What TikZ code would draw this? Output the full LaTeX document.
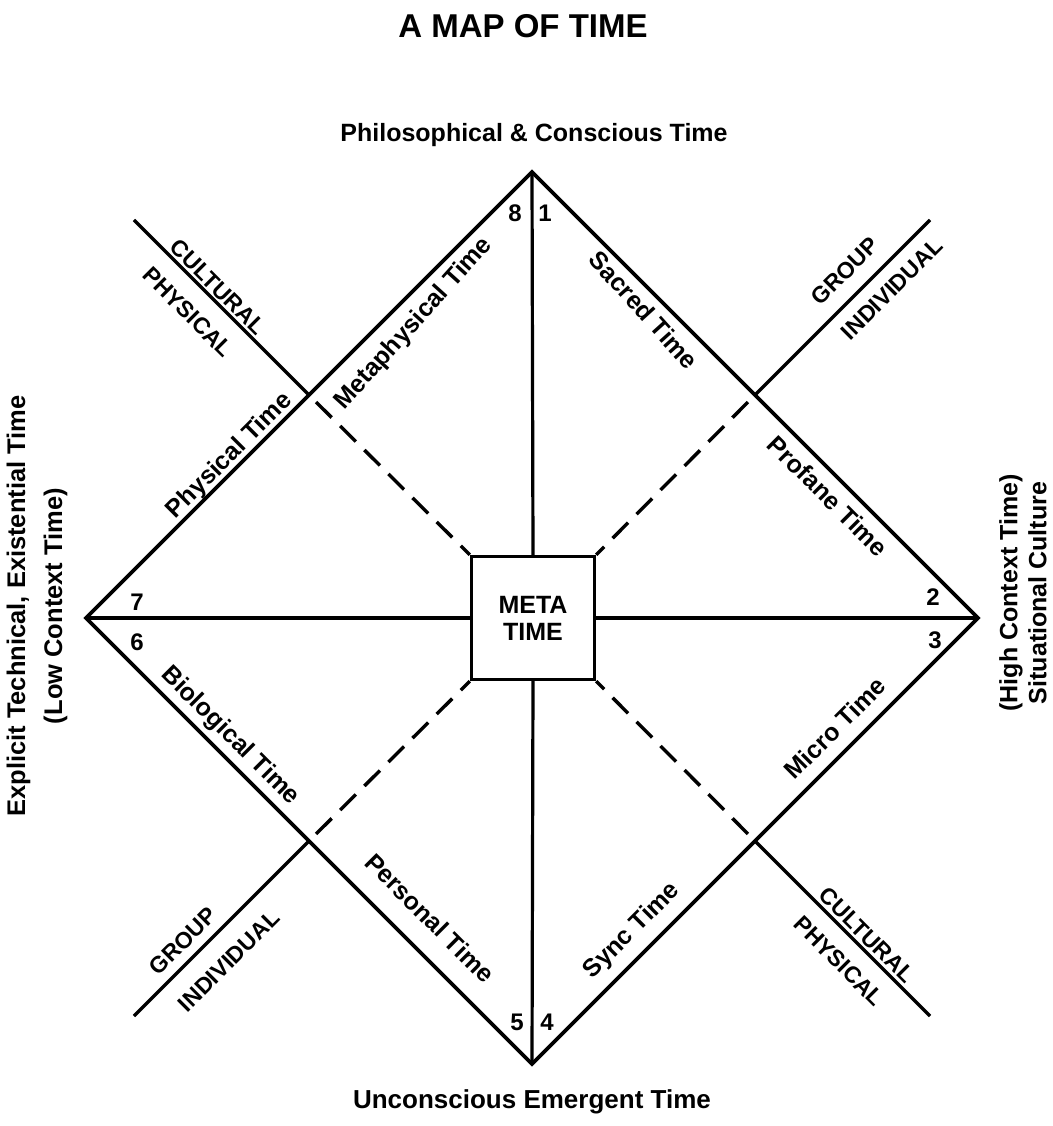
\documentclass[tikz,border=0pt]{standalone}
\usepackage{fontspec}
\setmainfont{Liberation Sans}
\begin{document}
\begin{tikzpicture}[x=1pt,y=1pt,
  edge/.style={line width=3.8pt, line join=miter, line cap=round},
  axisline/.style={line width=3.2pt},
  dashline/.style={line width=3.4pt, dash pattern=on 22pt off 12pt, dash phase=24pt},
  txt/.style={font=\bfseries\fontsize{25}{30}\selectfont, inner sep=0pt},
  num/.style={font=\bfseries\fontsize{24}{28}\selectfont, inner sep=0pt},
  caps/.style={font=\bfseries\fontsize{23}{28}\selectfont, inner sep=0pt}]
\useasboundingbox (-532,-508) rectangle (520,618);

% title and side labels
\node[font=\bfseries\fontsize{33}{38}\selectfont, anchor=base, inner sep=0pt] (title) at (-9,580) {A MAP OF TIME};
\node[txt, anchor=base] (top) at (2,476) {Philosophical \& Conscious Time};
\node[txt, anchor=base, font=\bfseries\fontsize{26}{30}\selectfont] (bot) at (0,-490) {Unconscious Emergent Time};
\node[txt, rotate=90, align=center, font=\bfseries\fontsize{25.5}{37}\selectfont] (left) at (-495,12) {Explicit Technical, Existential Time\\(Low Context Time)};
\node[txt, rotate=90, align=center, font=\bfseries\fontsize{25}{29}\selectfont] (right) at (491,25) {(High Context Time)\\Situational Culture};

% vertices
\coordinate (T) at (0,446);
\coordinate (B) at (0,-446);
\coordinate (L) at (-446,0);
\coordinate (R) at (446,0);
\coordinate (mtl) at (-223,223);
\coordinate (mtr) at (223,223);
\coordinate (mbl) at (-223,-223);
\coordinate (mbr) at (223,-223);
\coordinate (etl) at (-398,398);
\coordinate (etr) at (398,398);
\coordinate (ebl) at (-398,-398);
\coordinate (ebr) at (398,-398);

% centre box
\node[draw, line width=3.4pt, minimum size=123pt, inner sep=0pt, align=center,
      font=\bfseries\fontsize{25}{27}\selectfont, fill=white] (meta) at (1,0) {META\\TIME};

% diamond
\draw[edge] (T) -- (R) -- (B) -- (L) -- cycle;
\draw[axisline] (T) -- (meta.north);
\draw[axisline] (B) -- (meta.south);
\draw[axisline] (L) -- (meta.west);
\draw[axisline] (R) -- (meta.east);

% outer diagonals
\draw[axisline] (mtl) -- (etl);
\draw[axisline] (mtr) -- (etr);
\draw[axisline] (mbl) -- (ebl);
\draw[axisline] (mbr) -- (ebr);

% dashed diagonals
\draw[dashline] (mtl) -- (meta.north west);
\draw[dashline] (mtr) -- (meta.north east);
\draw[dashline] (mbl) -- (meta.south west);
\draw[dashline] (mbr) -- (meta.south east);

% numbers
\node[num] (n8) at (-17,405) {8};
\node[num] (n1) at (13,405) {1};
\node[num] (n7) at (-395,16) {7};
\node[num] (n6) at (-395,-24) {6};
\node[num] (n2) at (401,21) {2};
\node[num] (n3) at (403,-22) {3};
\node[num] (n5) at (-15,-404) {5};
\node[num] (n4) at (15,-404) {4};

% edge labels
\node[txt, rotate=48] (meta1) at (-118,294) {Metaphysical Time};
\node[txt, rotate=-48] (sacred) at (112,308) {Sacred Time};
\node[txt, rotate=45] (phys) at (-302,162) {Physical Time};
\node[txt, rotate=-45] (prof) at (296,122) {Profane Time};
\node[txt, rotate=-45] (bio) at (-302,-118) {Biological Time};
\node[txt, rotate=45] (micro) at (303,-110) {Micro Time};
\node[txt, rotate=-45] (pers) at (-102,-300) {Personal Time};
\node[txt, rotate=45] (sync) at (100,-313) {Sync Time};

% outer line labels
\node[caps, rotate=-45] (cul1) at (-314,331) {CULTURAL};
\node[caps, rotate=-45] (phy1) at (-344,306) {PHYSICAL};
\node[caps, rotate=45] (grp1) at (313,347) {GROUP};
\node[caps, rotate=45] (ind1) at (360,329) {INDIVIDUAL};
\node[caps, rotate=45] (grp2) at (-349,-323) {GROUP};
\node[caps, rotate=45] (ind2) at (-303,-343) {INDIVIDUAL};
\node[caps, rotate=-45] (cul2) at (335,-317) {CULTURAL};
\node[caps, rotate=-45] (phy2) at (307,-343) {PHYSICAL};
\end{tikzpicture}
\end{document}
